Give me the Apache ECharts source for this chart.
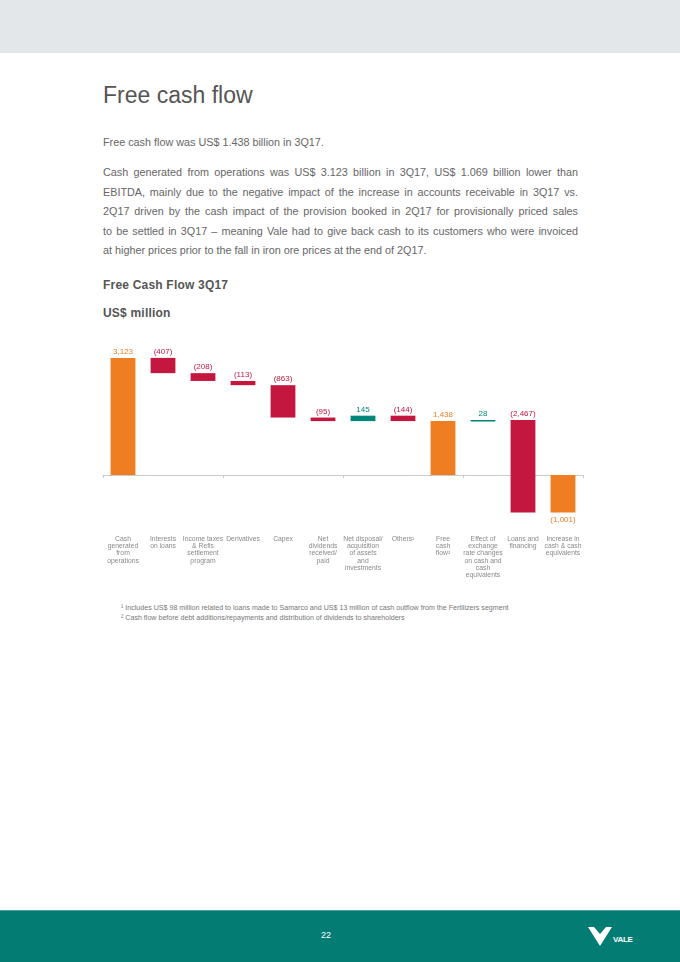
<!DOCTYPE html>
<html>
<head>
<meta charset="utf-8">
<script src="https://cdn.jsdelivr.net/npm/echarts@6/dist/echarts.min.js"></script>
<style>
  html, body { margin:0; padding:0; width:680px; height:962px; background:#fff; overflow:hidden; }
  body { position:relative; font-family:"Liberation Sans", Arial, sans-serif; }
  .topband { position:absolute; left:0; top:0; width:680px; height:53px; background:#e4e7ea; }
  .title { position:absolute; left:103px; top:81px; font-size:23px; color:#555; line-height:28px; white-space:nowrap; }
  .p1 { position:absolute; left:103px; top:133px; font-size:10.8px; color:#666; line-height:19.5px; white-space:nowrap; }
  .p2 { position:absolute; left:103px; top:163px; width:475px; font-size:10.8px; color:#666; line-height:19.6px; }
  .p2 .j { text-align:justify; text-align-last:justify; white-space:nowrap; }
  .p2 .l { text-align:left; white-space:nowrap; }
  .h1 { position:absolute; left:103px; top:278px; font-size:12px; font-weight:bold; color:#555; letter-spacing:0.2px; }
  .h2 { position:absolute; left:103px; top:306px; font-size:12px; font-weight:bold; color:#555; letter-spacing:0.2px; }
  #chart { position:absolute; left:0; top:330px; width:680px; height:270px; }
  .fn { position:absolute; left:121px; font-size:7.1px; color:#777; white-space:nowrap; line-height:9px; }
  .footer { position:absolute; left:0; top:910px; width:680px; height:52px; background:#037c74; border-top:1px solid #4fa59e; box-sizing:border-box; }
  .pagenum { position:absolute; left:0; width:652px; top:930px; text-align:center; color:#fff; font-size:9px; }
  .logo { position:absolute; left:588px; top:926px; }
</style>
</head>
<body>
<div class="topband"></div>
<div class="title">Free cash flow</div>
<div class="p1">Free cash flow was US$ 1.438 billion in 3Q17.</div>
<div class="p2">
  <div class="j">Cash generated from operations was US$ 3.123 billion in 3Q17, US$ 1.069 billion lower than</div>
  <div class="j">EBITDA, mainly due to the negative impact of the increase in accounts receivable in 3Q17 vs.</div>
  <div class="j">2Q17 driven by the cash impact of the provision booked in 2Q17 for provisionally priced sales</div>
  <div class="j">to be settled in 3Q17 – meaning Vale had to give back cash to its customers who were invoiced</div>
  <div class="l">at higher prices prior to the fall in iron ore prices at the end of 2Q17.</div>
</div>
<div class="h1">Free Cash Flow 3Q17</div>
<div class="h2">US$ million</div>
<div id="chart"></div>
<div class="fn" style="top:604px;">¹ Includes US$ 98 million related to loans made to Samarco and US$ 13 million of cash outflow from the Fertilizers segment</div>
<div class="fn" style="top:613.5px;">² Cash flow before debt additions/repayments and distribution of dividends to shareholders</div>
<div class="footer"></div>
<div class="pagenum">22</div>
<svg class="logo" width="50" height="22" viewBox="0 0 50 22">
  <path d="M0,1 L6,1 L12,8 L18,1 L24,1 L12,20 Z" fill="#fff"/>
  <text x="25" y="16" font-family="Liberation Sans, Arial, sans-serif" font-weight="bold" font-size="8" fill="#fff" letter-spacing="-0.3">VALE</text>
</svg>
<script>
// ---- data ----
var categories = [
  "Cash\ngenerated\nfrom\noperations",
  "Interests\non loans",
  "Income taxes\n& Refis\nsettlement\nprogram",
  "Derivatives",
  "Capex",
  "Net\ndividends\nreceived/\npaid",
  "Net disposal/\nacquisition\nof assets\nand\ninvestments",
  "Others¹",
  "Free\ncash\nflow²",
  "Effect of\nexchange\nrate changes\non cash and\ncash\nequivalents",
  "Loans and\nfinancing",
  "Increase in\ncash & cash\nequivalents"
];
var values = [3123, -407, -208, -113, -863, -95, 145, -144, 1438, 28, -2467, -1001];
var barTypes = ["total", "delta", "delta", "delta", "delta", "delta", "delta", "delta", "total", "delta", "delta", "total"];

// ---- build waterfall ranges ----
var ranges = [];
var running = 0;
for (var i = 0; i < values.length; i++) {
  var lo, hi;
  if (barTypes[i] === "total") {
    lo = Math.min(0, values[i]); hi = Math.max(0, values[i]);
    running = values[i];
  } else {
    var next = running + values[i];
    lo = Math.min(running, next); hi = Math.max(running, next);
    running = next;
  }
  ranges.push([i, lo, hi, values[i]]);
}

var ORANGE = "#ef7d22", CRIMSON = "#c4173f", TEAL = "#00857a";
function fmt(v) {
  var s = Math.abs(v).toString().replace(/\B(?=(\d{3})+(?!\d))/g, ",");
  return v < 0 ? "(" + s + ")" : s;
}

var chart = echarts.init(document.getElementById("chart"), null, { renderer: "canvas" });
chart.setOption({
  animation: false,
  grid: { left: 103, right: 97, top: 13.75, bottom: 68.75, containLabel: false },
  xAxis: [
    {
      type: "category", data: categories, position: "bottom",
      axisLine: { show: true, onZero: true, lineStyle: { color: "#c9c9c9", width: 1 } },
      axisTick: { show: true, length: 3, alignWithLabel: false, lineStyle: { color: "#c9c9c9" } },
      axisLabel: { show: false }, splitLine: { show: false }
    },
    {
      type: "category", data: categories, position: "bottom",
      axisLine: { show: false, onZero: false }, axisTick: { show: false },
      axisLabel: {
        show: true, interval: 0, margin: 4, color: "#8a8a8a",
        fontSize: 6.8, lineHeight: 7.3, fontFamily: "Liberation Sans, Arial, sans-serif",
        verticalAlign: "top", align: "center"
      },
      splitLine: { show: false }
    }
  ],
  yAxis: { type: "value", min: -1500, max: 3500, show: false, splitLine: { show: false } },
  series: [{
    type: "custom",
    xAxisIndex: 0, yAxisIndex: 0,
    data: ranges,
    encode: { x: 0, y: [1, 2] },
    renderItem: function (params, api) {
      var idx = api.value(0), lo = api.value(1), hi = api.value(2), v = api.value(3);
      var pTop = api.coord([idx, hi]);
      var pBot = api.coord([idx, lo]);
      var w = api.size([1, 0])[0] * 0.62;
      var h = Math.max(pBot[1] - pTop[1], 1.5);
      var t = barTypes[idx];
      var color = t === "total" ? ORANGE : (v < 0 ? CRIMSON : TEAL);
      var below = (t === "total" && v < 0);
      var ty = below ? pBot[1] + 3 : pTop[1] - 2;
      return {
        type: "group",
        children: [
          { type: "rect", shape: { x: pTop[0] - w / 2, y: pTop[1], width: w, height: h }, style: { fill: color } },
          { type: "text", style: {
              text: fmt(v), x: pTop[0], y: ty,
              textAlign: "center", align: "center",
              textVerticalAlign: below ? "top" : "bottom", verticalAlign: below ? "top" : "bottom",
              fill: color, fontSize: 8, fontFamily: "Liberation Sans, Arial, sans-serif"
          } }
        ]
      };
    }
  }]
});
</script>
</body>
</html>
